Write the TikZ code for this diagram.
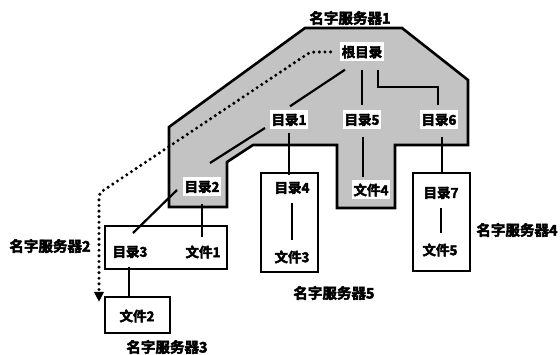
\documentclass[tikz,border=0pt]{standalone}
\usepackage{fontspec}
\newfontfamily\cjk{Noto Sans CJK SC}[BoldFont={* Bold}, BoldFeatures={FakeBold=3}]
\usetikzlibrary{arrows.meta}
\definecolor{grayfill}{RGB}{195,195,195}
\tikzset{
  lbl/.style={font=\cjk\bfseries\fontsize{13.5}{13.5}\selectfont, fill=white, inner sep=2pt, minimum height=19pt},
  srv/.style={font=\cjk\bfseries\fontsize{14.5}{14.5}\selectfont, inner sep=1pt},
  boxnode/.style={draw, line width=2.6pt, inner sep=0pt},
  conn/.style={line width=2.2pt},
  dotarrow/.style={line width=3.4pt, dash pattern=on 0pt off 5.6pt, line cap=round, -{Triangle[width=9pt,length=10pt]}}
}
\begin{document}
\begin{tikzpicture}[x=1pt,y=-1pt]
\useasboundingbox (0,0) rectangle (560,355);
% gray region of server 1
\draw[line width=2.6pt, fill=grayfill, line join=miter]
  (305,28) -- (402,28) -- (468,80) -- (468,145) -- (395,145) -- (395,208)
  -- (337,208) -- (337,145) -- (253,145) -- (227,162) -- (227,207)
  -- (169,207) -- (169,127) -- cycle;
% boxes
\node[boxnode, minimum width=57pt, minimum height=99pt] (bA) at (289.5,222.5) {};
\node[boxnode, minimum width=57pt, minimum height=98pt] (bB) at (441.5,222) {};
\node[boxnode, minimum width=122pt, minimum height=43pt] (bC) at (166,247.5) {};
\node[boxnode, minimum width=65pt, minimum height=36pt] (bD) at (137.5,315) {};
% labels
\node[lbl] (root) at (362,52) {根目录};
\node[lbl] (d1) at (289,120) {目录1};
\node[lbl] (d5) at (362,120) {目录5};
\node[lbl] (d6) at (439,120) {目录6};
\node[lbl] (d2) at (202,187) {目录2};
\node[lbl] (f4) at (371,190) {文件4};
\node[lbl] (d4) at (292,188) {目录4};
\node[lbl] (f3) at (292,257) {文件3};
\node[lbl] (d7) at (441,193) {目录7};
\node[lbl] (f5) at (440,250) {文件5};
\node[lbl] (d3) at (130,252) {目录3};
\node[lbl] (f1) at (203,252) {文件1};
\node[lbl] (f2) at (137,316) {文件2};
% server names
\node[srv] (s1) at (350,18) {名字服务器1};
\node[srv] (s2) at (50,246) {名字服务器2};
\node[srv] (s3) at (167,347) {名字服务器3};
\node[srv] (s4) at (517,230) {名字服务器4};
\node[srv] (s5) at (334,293) {名字服务器5};
% connectors
\draw[conn] ([shift={(-17,8)}]root.south) -- ([shift={(1,-4)}]d1.north);
\draw[conn] ([shift={(0,8)}]root.south) -- ([shift={(0,-5)}]d5.north);
\draw[conn] ([shift={(16,8)}]root.south) -- ++(0,17) -| ([shift={(-1,-5)}]d6.north);
\draw[conn] ([shift={(-24,8)}]d1.center) -- ([shift={(8,-24)}]d2.center);
\draw[conn] ([shift={(0,3)}]d1.south) -- ([shift={(0,3)}]d1.south |- bA.north);
\draw[conn] ([shift={(1,7)}]d5.south) -- ([shift={(-8,-3)}]f4.north);
\draw[conn] ([shift={(3,7)}]d6.south) coordinate (d6b) -- (d6b |- bB.north);
\draw[conn] ([shift={(0,5)}]d7.south) coordinate (d7b) -- ([shift={(0,-7)}]d7b |- f5.north);
\draw[conn] ([shift={(0,5)}]d4.south) -- ([shift={(0,-7)}]f3.north);
\draw[conn] ([shift={(-25,3)}]d2.center) -- ([shift={(3,-19)}]d3.center);
\draw[conn] ([shift={(0,7)}]d2.south) -- ([shift={(-1,-5)}]f1.north);
\draw[conn] ([shift={(-1,5)}]d3.south) coordinate (d3b) -- (d3b |- bD.north);
% dotted reference arrow
\coordinate (tip) at (99,302);
\draw[dotarrow] ([shift={(-9,0)}]root.west) -- (318,52) .. controls (310,52) .. (303,57)
  -- (107,188) .. controls (99,193) .. (99,203) -- (tip);
\end{tikzpicture}
\end{document}
